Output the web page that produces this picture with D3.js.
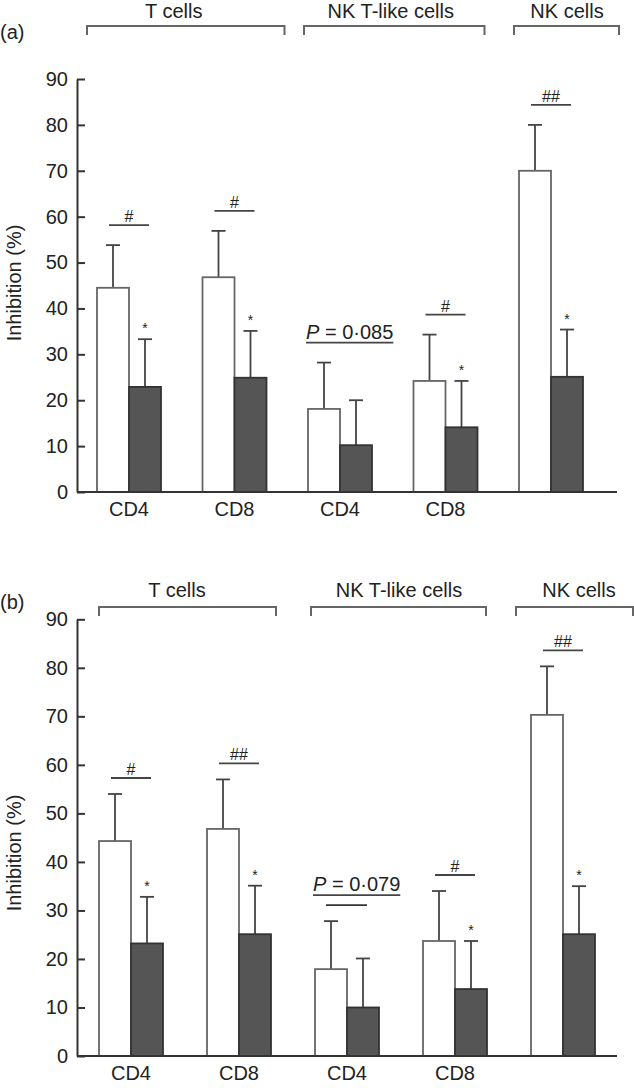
<!DOCTYPE html>
<html><head><meta charset="utf-8">
<script src="https://cdn.jsdelivr.net/npm/d3@7"></script>
<style>
body{margin:0;background:#fff}
svg{display:block}
text{font-family:"Liberation Sans",Arial,Helvetica,sans-serif;fill:#222}
</style>
</head><body>
<svg id="c" width="634" height="1088"></svg>
<script>
// ---------- DATA ----------
const groupLabels = ["CD4", "CD8", "CD4", "CD8", ""];
const cellTypes = ["T cells", "NK T-like cells", "NK cells"];
const cellTypeFirst = [0, 2, 4];
const cellTypeLast = [1, 3, 4];
const yTicks = [0, 10, 20, 30, 40, 50, 60, 70, 80, 90];
const yLabel = "Inhibition (%)";

// panel (a)
const aOpen = [44.5, 46.8, 18.1, 24.2, 70.0];
const aOpenSD = [9.3, 10.1, 10.1, 10.1, 10.0];
const aFilled = [22.9, 24.9, 10.2, 14.1, 25.1];
const aFilledSD = [10.4, 10.2, 9.8, 10.1, 10.3];
const aSig = ["#", "#", "P=0·085", "#", "##"];
const aStar = [true, true, false, true, true];

// panel (b)
const bOpen = [44.3, 46.8, 17.9, 23.7, 70.3];
const bOpenSD = [9.7, 10.2, 9.9, 10.3, 10.0];
const bFilled = [23.2, 25.1, 10.0, 13.8, 25.1];
const bFilledSD = [9.6, 10.0, 10.1, 9.9, 9.9];
const bSig = ["#", "##", "P=0·079", "#", "##"];
const bStar = [true, true, false, true, true];

// ---------- LAYOUT ----------
const panels = [
  {tag: "(a)", tagY: 39, open: aOpen, openSD: aOpenSD, filled: aFilled, filledSD: aFilledSD,
   sig: aSig, star: aStar, y0: 492, yTop: 79, xFirst: 129, xLast: 551, axisX: 77, axisEnd: 617,
   headY: 18, brY: 26, brTick: 9, labelY: 283, sigGap: 20, pLine: false,
   brPad: [[42, 50], [36, 39], [37, 68]]},
  {tag: "(b)", tagY: 609, open: bOpen, openSD: bOpenSD, filled: bFilled, filledSD: bFilledSD,
   sig: bSig, star: bStar, y0: 1056, yTop: 619.3, xFirst: 131, xLast: 563, axisX: 77, axisEnd: 617,
   headY: 597, brY: 607, brTick: 9, labelY: 853, sigGap: 16, pLine: true,
   brPad: [[32, 37], [36, 31], [47, 75]]}
];

const svg = d3.select("#c");
const FS = 20;

panels.forEach(p => {
  const g = svg.append("g");
  const idx = d3.range(groupLabels.length);
  const y = d3.scaleLinear().domain([0, 90]).range([p.y0, p.yTop]);
  const x = d3.scalePoint().domain(idx).range([p.xFirst, p.xLast]);
  const sub = d3.scaleBand().domain([0, 1]).range([-32, 32]).padding(0);
  const bw = sub.bandwidth();

  // panel tag
  g.append("text").attr("x", 0).attr("y", p.tagY).attr("font-size", 20).text(p.tag);

  // headers + brackets
  cellTypes.forEach((ct, k) => {
    const l = x(cellTypeFirst[k]) - p.brPad[k][0];
    const r = Math.min(x(cellTypeLast[k]) + p.brPad[k][1], 633);
    g.append("path")
      .attr("d", `M${l},${p.brY + p.brTick}V${p.brY}H${r}V${p.brY + p.brTick}`)
      .attr("fill", "none").attr("stroke", "#666").attr("stroke-width", 2);
    g.append("text").attr("x", (x(cellTypeFirst[k]) + x(cellTypeLast[k])) / 2 + (k === 2 ? 16 : (k===1?-2:-8)) )
      .attr("y", p.headY).attr("text-anchor", "middle").attr("font-size", FS).text(ct);
  });

  // y axis
  const ax = g.append("g").attr("transform", `translate(${p.axisX},0)`)
    .call(d3.axisLeft(y).tickValues(yTicks).tickSize(-8).tickSizeOuter(0).tickPadding(9));
  ax.select(".domain").attr("stroke", "#333").attr("stroke-width", 2);
  ax.selectAll(".tick line").attr("stroke", "#333").attr("stroke-width", 2);
  ax.selectAll(".tick text").attr("font-size", FS).attr("fill", "#222")
    .attr("font-family", '"Liberation Sans",Arial,sans-serif');

  // y label
  g.append("text").attr("transform", `translate(21,${p.labelY}) rotate(-90)`)
    .attr("text-anchor", "middle").attr("font-size", FS).text(yLabel);

  // bars
  const series = [
    {vals: p.open, sd: p.openSD, fill: "#ffffff"},
    {vals: p.filled, sd: p.filledSD, fill: "#555555"}
  ];
  series.forEach((s, si) => {
    idx.forEach(i => {
      const bx = x(i) + sub(si);
      const cx = bx + bw / 2;
      const top = y(s.vals[i]);
      const et = y(s.vals[i] + s.sd[i]);
      g.append("line").attr("x1", cx).attr("x2", cx).attr("y1", top).attr("y2", et)
        .attr("stroke", "#444").attr("stroke-width", 1.8);
      g.append("line").attr("x1", cx - 7).attr("x2", cx + 7).attr("y1", et).attr("y2", et)
        .attr("stroke", "#444").attr("stroke-width", 1.8);
      g.append("rect").attr("x", bx).attr("y", top).attr("width", bw).attr("height", y(0) - top)
        .attr("fill", s.fill).attr("stroke", si === 0 ? "#666" : "#333").attr("stroke-width", 1.8);
      if (si === 1 && p.star[i]) {
        g.append("text").attr("x", cx).attr("y", et - 6).attr("text-anchor", "middle")
          .attr("font-size", 14).text("*");
      }
    });
  });

  // x axis
  g.append("line").attr("x1", p.axisX).attr("x2", p.axisEnd).attr("y1", y(0)).attr("y2", y(0))
    .attr("stroke", "#333").attr("stroke-width", 2);
  idx.forEach(i => {
    g.append("text").attr("x", x(i)).attr("y", y(0) + 24).attr("text-anchor", "middle")
      .attr("font-size", FS).text(groupLabels[i]);
  });

  // significance annotations
  idx.forEach(i => {
    const ly = y(p.open[i] + p.openSD[i]) - p.sigGap;
    const lab = p.sig[i];
    if (lab.startsWith("P")) {
      const tx = x(i) + sub(0) - 2;
      const ty = p.pLine ? ly - 14 : ly - 4;
      const t = g.append("text").attr("x", tx).attr("y", ty).attr("font-size", FS);
      t.append("tspan").attr("font-style", "italic").text("P");
      t.append("tspan").text(" = 0·" + lab.split("·")[1]);
      const w = t.node().getComputedTextLength();
      g.append("line").attr("x1", tx).attr("x2", tx + w).attr("y1", ty + 4).attr("y2", ty + 4)
        .attr("stroke", "#444").attr("stroke-width", 1.6);
      if (p.pLine) {
        g.append("line").attr("x1", x(i) - 21).attr("x2", x(i) + 20).attr("y1", ly).attr("y2", ly)
          .attr("stroke", "#333").attr("stroke-width", 1.8);
      }
    } else {
      g.append("line").attr("x1", x(i) - 20).attr("x2", x(i) + 20).attr("y1", ly).attr("y2", ly)
        .attr("stroke", "#444").attr("stroke-width", 1.8);
      g.append("text").attr("x", x(i)).attr("y", ly - 3).attr("text-anchor", "middle")
        .attr("font-size", 16).text(lab);
    }
  });
});
</script>
</body></html>
